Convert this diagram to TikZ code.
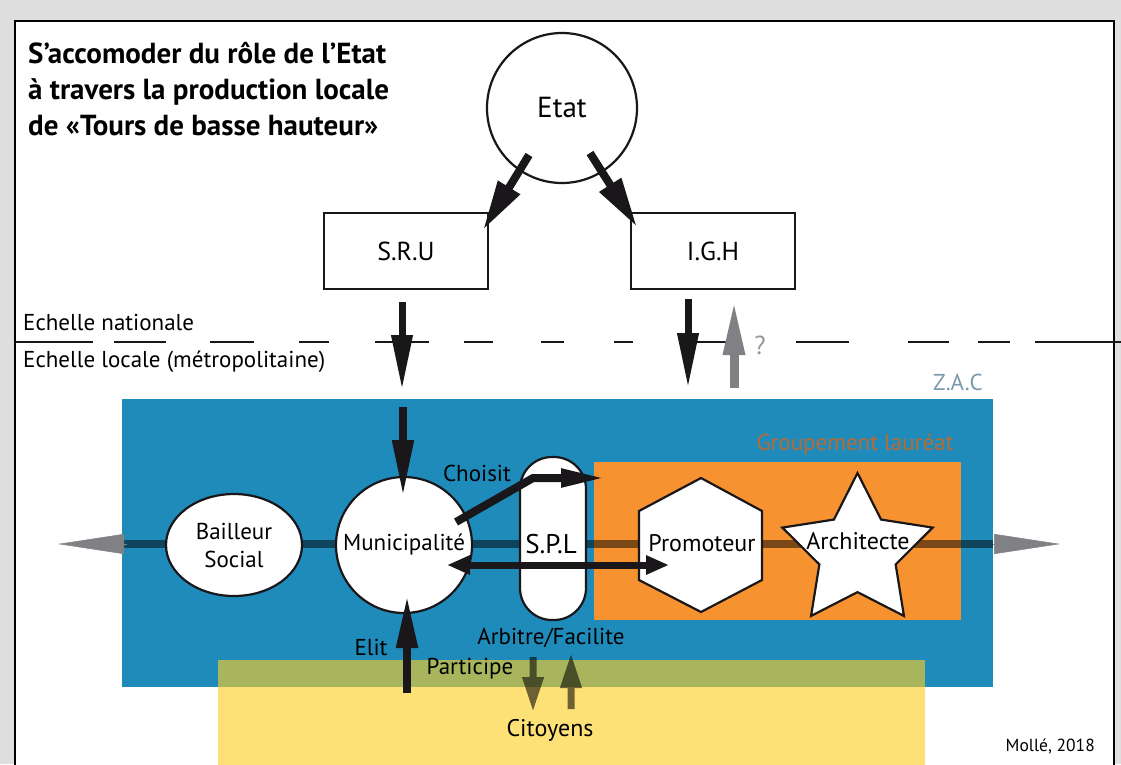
\documentclass[tikz,border=0pt]{standalone}
\usepackage{fontspec}
\setmainfont{PT Sans}
\usetikzlibrary{arrows.meta,shapes.geometric}
\definecolor{bgray}{RGB}{223,223,223}
\definecolor{zacblue}{RGB}{31,139,186}
\definecolor{grporange}{RGB}{246,146,48}
\definecolor{cityellow}{RGB}{253,207,37}
\definecolor{inkblack}{RGB}{26,23,27}
\definecolor{arrgray}{RGB}{128,128,133}
\definecolor{zactext}{RGB}{120,153,170}
\definecolor{grptext}{RGB}{184,106,52}
\definecolor{qgray}{RGB}{150,150,150}
\begin{document}
\begin{tikzpicture}[x=1pt,y=-1pt,
  lbl/.style={inner sep=0pt, font=\fontsize{23}{27}\selectfont},
  shapebox/.style={draw=inkblack, line width=2.2pt, fill=white, inner sep=0pt, line join=miter},
  zone/.style={inner sep=0pt, outer sep=0pt},
  vertarrow/.style={draw=inkblack, line width=7pt, -{Triangle[length=55pt,width=20pt]}},
  diagarrow/.style={draw=inkblack, line width=8pt, -{Triangle[length=50pt,width=24pt]}},
  grayhead/.style={draw=arrgray, fill=arrgray, line width=0.5pt, -{Triangle[length=66pt,width=20pt]}},
  olivearrow/.style={draw=black, line width=7pt, -{Triangle[length=35pt,width=20pt]}},
  dashseg/.style={draw=inkblack, line width=2pt}
]
\clip (0,0) rectangle (1121,764);
\fill[bgray] (0,0) rectangle (1121,764);
\draw[fill=white, line width=2.5pt] (15,21) rectangle (1114,800);

% title
\node[anchor=north west, align=left, inner sep=0pt, font=\bfseries\fontsize{29}{36}\selectfont] (title) at (28,42)
  {S’accomoder du rôle de l’Etat\\à travers la production locale\\de «Tours de basse hauteur»};

% national level
\node[shapebox, circle, minimum size=150pt, font=\fontsize{29}{32}\selectfont] (etat) at (562,108) {Etat};
\node[shapebox, minimum width=164pt, minimum height=76pt, font=\fontsize{26}{30}\selectfont] (sru) at (406,251) {S.R.U};
\node[shapebox, minimum width=164pt, minimum height=76pt, font=\fontsize{26}{30}\selectfont] (igh) at (713,251) {I.G.H};

\coordinate (e1) at (529,155); \coordinate (e1t) at (483,230);
\coordinate (e2) at (590,153); \coordinate (e2t) at (637,227);
\draw[diagarrow] (e1) -- (e1t);
\draw[diagarrow] (e2) -- (e2t);

% dashed separation line
\foreach \a/\b in {15/93,114/166,210/254,299/329,375/429,464/493,541/564,614/633,688/730,796/849,908/949,978/1010,1035/1121}
  \draw[dashseg] (\a,342) -- (\b,342);

\node[lbl, anchor=west] (nat) at (23,322) {Echelle nationale};
\node[lbl, anchor=west] (loc) at (23,362) {Echelle locale (métropolitaine)};

\coordinate (s1) at (402,302); \coordinate (s1t) at (402,390);
\coordinate (i1) at (688,299); \coordinate (i1t) at (688,388);
\coordinate (g1) at (734,388); \coordinate (g1t) at (734,300);
\draw[vertarrow] (s1) -- (s1t);
\draw[vertarrow] (i1) -- (i1t);
\draw[draw=arrgray, line width=9pt, -{Triangle[length=55pt,width=20pt]}] (g1) -- (g1t);
\node[lbl, text=qgray, font=\fontsize{26}{30}\selectfont] (q) at (760,345) {?};
\node[lbl, text=zactext] (zaclbl) at (958,382) {Z.A.C};

% zones
\node[zone, fill=zacblue, minimum width=871pt, minimum height=288pt] (zac) at (557.5,543) {};
\node[zone, fill=grporange, minimum width=367pt, minimum height=158pt] (grp) at (777.5,541) {};
\node[lbl, text=grptext] (grplbl) at (855,445) {Groupement lauréat};

% horizontal band
\coordinate (bandL) at (122,544); \coordinate (bandR) at (993,544);
\draw[black, opacity=0.5, line width=8pt] (bandL) -- (bandR);
\coordinate (ghL) at (127,544); \coordinate (ghLt) at (58,544);
\coordinate (ghR) at (993,544); \coordinate (ghRt) at (1060,544);
\draw[grayhead] (ghL) -- (ghLt);
\draw[grayhead] (ghR) -- (ghRt);

% citizens zone
\node[zone, fill=cityellow, fill opacity=0.62, minimum width=707pt, minimum height=130pt] (cit) at (571.5,725) {};

% actors
\node[shapebox, ellipse, minimum width=136pt, minimum height=102pt, align=center, font=\fontsize{23}{28}\selectfont] (bail) at (234,545) {Bailleur\\Social};
\node[shapebox, circle, minimum size=136pt, font=\fontsize{23}{27}\selectfont] (muni) at (404,545) {};
\node[lbl] (munitxt) at (404,545) {Municipalité};
\node[shapebox, rounded corners=32pt, minimum width=66pt, minimum height=163pt] (spl) at (553,538.5) {};
\node[lbl, font=\fontsize{27}{30}\selectfont] (spltxt) at (551,544) {S.P.L};
\draw[shapebox] (701,478) -- (762,511) -- (762,580) -- (701,612) -- (639,580) -- (639,511) -- cycle;
\node[lbl, font=\fontsize{24}{27}\selectfont] (promo) at (702,543) {Promoteur};
\node[shapebox, star, star points=5, star point ratio=1.97, minimum size=158pt] (archi) at (857.5,552) {};
\node[lbl, font=\fontsize{24}{27}\selectfont] (architxt) at (858,541) {Architecte};

% local arrows
\coordinate (m1) at (403,407); \coordinate (m1t) at (403,497);
\draw[draw=inkblack, line width=8pt, -{Triangle[length=57pt,width=20pt]}] (m1) -- (m1t);
\coordinate (el) at (407,693); \coordinate (elt) at (407,595);
\draw[draw=inkblack, line width=8pt, -{Triangle[length=53pt,width=20pt]}] (el) -- (elt);
\node[lbl] (elit) at (371,647) {Elit};

\coordinate (c1) at (456,522); \coordinate (c2) at (533,478); \coordinate (c3) at (606,478);
\draw[draw=inkblack, line width=8pt, line join=miter, -{Triangle[length=45pt,width=17pt]}] (c1) -- (c2) -- (c3);
\node[lbl] (choisit) at (477,473) {Choisit};

\coordinate (d1) at (447,565); \coordinate (d2) at (669,565);
\draw[draw=inkblack, line width=7pt, {Triangle[length=23pt,width=18pt]}-{Triangle[length=23pt,width=18pt]}] (d1) -- (d2);

\node[lbl] (arb) at (551,638) {Arbitre/Facilite};
\node[lbl] (part) at (470,669) {Participe};
\coordinate (o1) at (533,657); \coordinate (o1t) at (533,712);
\coordinate (o2) at (571,709); \coordinate (o2t) at (571,653);
\begin{scope}[transparency group, opacity=0.57]
\draw[olivearrow] (o1) -- (o1t);
\draw[olivearrow] (o2) -- (o2t);
\end{scope}
\node[lbl, font=\fontsize{24}{27}\selectfont] (citlbl) at (550,730) {Citoyens};
\node[lbl, anchor=east, font=\fontsize{17.5}{20}\selectfont] (credit) at (1095,746) {Mollé, 2018};
\end{tikzpicture}
\end{document}
